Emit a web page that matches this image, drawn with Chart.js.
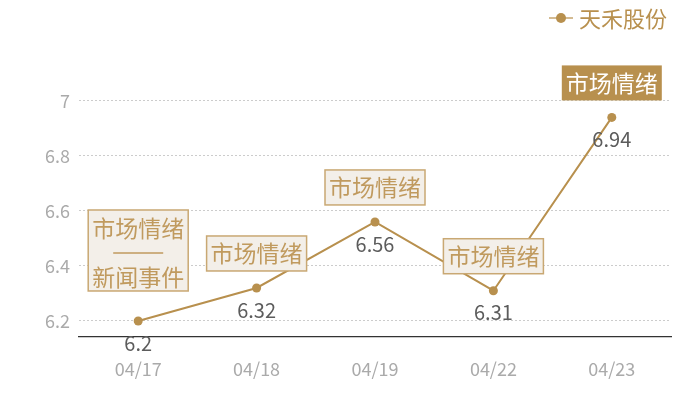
<!DOCTYPE html>
<html>
<head>
<meta charset="utf-8">
<script src="https://cdn.jsdelivr.net/npm/chart.js@4/dist/chart.umd.min.js"></script>
<style>
  html, body { margin: 0; padding: 0; background: #fff; }
  #wrap { width: 700px; height: 400px; }
</style>
</head>
<body>
<div id="wrap"><canvas id="myChart"></canvas></div>
<script>
  // data
  var dates = ['04/17', '04/18', '04/19', '04/22', '04/23'];
  var prices = [6.2, 6.32, 6.56, 6.31, 6.94];
  var tags = [['市场情绪', '新闻事件'], ['市场情绪'], ['市场情绪'], ['市场情绪'], ['市场情绪']];
  var highlight = [false, false, false, false, true];
  var yTicks = [6.2, 6.4, 6.6, 6.8, 7];
  var seriesName = '天禾股份';

  var gold = '#b8904e';
  var cjk = '"Noto Sans CJK SC", "Noto Sans", sans-serif';

  // value labels, tag boxes and legend
  var decor = {
    id: 'decor',
    afterDatasetsDraw: function (chart) {
      var c = chart.ctx;
      var meta = chart.getDatasetMeta(0);
      c.save();
      meta.data.forEach(function (pt, i) {
        // value label under the point
        c.fillStyle = '#5c5c5c';
        c.font = '20px ' + cjk;
        c.textAlign = 'center';
        c.textBaseline = 'middle';
        c.fillText(String(prices[i]), pt.x, pt.y + 22);

        // tag box above the point
        var lines = tags[i];
        var w = 100, lh = 35;
        var h = lines.length > 1 ? 81 : lh;
        var gap = lines.length > 1 ? 30 : 17;
        var x0 = pt.x - w / 2, y1 = pt.y - gap, y0 = y1 - h;
        c.fillStyle = highlight[i] ? gold : '#f3efe9';
        c.fillRect(x0, y0, w, h);
        if (!highlight[i]) {
          c.strokeStyle = '#c9a873';
          c.lineWidth = 1.5;
          c.strokeRect(x0, y0, w, h);
        }
        c.fillStyle = highlight[i] ? '#ffffff' : '#c09a5e';
        c.font = '23px ' + cjk;
        if (lines.length > 1) {
          c.fillText(lines[0], pt.x, y0 + 18);
          c.strokeStyle = '#c09a5e';
          c.lineWidth = 1.5;
          c.beginPath();
          c.moveTo(pt.x - 25, y0 + 43);
          c.lineTo(pt.x + 25, y0 + 43);
          c.stroke();
          c.fillText(lines[1], pt.x, y0 + 67);
        } else {
          c.fillText(lines[0], pt.x, y0 + h / 2);
        }
      });

      // legend
      c.strokeStyle = '#d4bb92';
      c.lineWidth = 2;
      c.beginPath();
      c.moveTo(549, 18);
      c.lineTo(573, 18);
      c.stroke();
      c.fillStyle = gold;
      c.beginPath();
      c.arc(561, 18, 5, 0, Math.PI * 2);
      c.fill();
      c.font = '22px ' + cjk;
      c.textAlign = 'left';
      c.fillText(seriesName, 579, 19);
      c.restore();
    }
  };

  var ctx = document.getElementById('myChart').getContext('2d');

  var chart = new Chart(ctx, {
    type: 'line',
    data: {
      labels: dates,
      datasets: [{
        label: seriesName,
        data: prices,
        borderColor: gold,
        backgroundColor: gold,
        borderWidth: 2,
        pointRadius: 4.5,
        pointBackgroundColor: gold,
        pointBorderWidth: 0,
        tension: 0
      }]
    },
    options: {
      responsive: true,
      maintainAspectRatio: false,
      animation: false,
      layout: { padding: { top: 80, right: 29, left: 0, bottom: 0 } },
      plugins: {
        legend: { display: false },
        tooltip: { enabled: false }
      },
      scales: {
        x: {
          offset: true,
          grid: { display: false, drawTicks: false },
          border: { display: true, color: '#333', width: 1.2 },
          ticks: { color: '#aaa', font: { size: 18, family: cjk }, padding: 21 },
          afterFit: function (s) { s.height = 63; }
        },
        y: {
          min: 6.1418,
          max: 7.076,
          afterBuildTicks: function (s) {
            s.ticks = yTicks.map(function (v) { return { value: v }; });
          },
          grid: { color: '#cccccc', drawTicks: false, lineWidth: 1 },
          border: { display: false, dash: [2, 2] },
          ticks: {
            color: '#aaa',
            font: { size: 18, family: cjk },
            padding: 9,
            callback: function (v) { return v; }
          },
          afterFit: function (s) { s.width = 79; }
        }
      }
    },
    plugins: [decor]
  });
</script>
</body>
</html>
